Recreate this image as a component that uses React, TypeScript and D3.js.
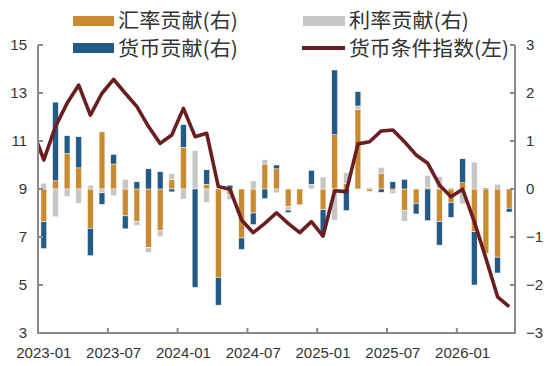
import React from "react";
import * as d3 from "d3";

const months: string[] = [];
for (let y = 2023; y <= 2026; y++) {
  for (let m = 1; m <= 12; m++) {
    if (y === 2026 && m > 5) break;
    months.push(`${y}-${String(m).padStart(2, "0")}`);
  }
}

// 汇率贡献 (right axis)
const fxContrib = [
  -0.68, 0.17, 0.74, 0.44, -0.82, 1.19, 0.52, -0.56, -0.68, -1.22,
  -0.87, 0.2, 0.87, 0, 0.1, -1.84, -0.12, -1.02, -0.5, 0.52,
  0.42, -0.37, -0.33, 0, -0.43, 1.13, 0.12, 1.66, -0.05, 0.33,
  -0.04, -0.45, -0.3, 0.03, -0.68, -0.28, 0.13, -0.89, -1.34, -1.42,
  -0.4,
];
// 利率贡献 (right axis)
const rateContrib = [
  0.12, -0.58, -0.16, -0.3, 0.08, -0.08, -0.14, 0.2, -0.08, -0.1,
  -0.12, 0.12, -0.21, 0.8, -0.28, 0, -0.1, 0, 0.17, 0.09,
  -0.08, -0.07, 0, 0.1, 0.25, -0.65, 0.22, 0.07, 0.03, 0.12,
  -0.06, -0.22, 0, 0.25, 0.26, 0.03, -0.31, 0.56, 0, 0.1,
  0,
];
// 货币贡献 (right axis)
const moneyContrib = [
  -0.56, 1.64, 0.37, 0.65, -0.57, -0.24, 0.2, -0.27, 0.15, 0.42,
  0.36, -0.06, 0.47, -2.05, 0.3, -0.58, 0.08, -0.24, -0.24, -0.2,
  0.08, -0.05, 0, 0.29, -0.47, 1.35, -0.45, 0.3, 0, -0.07,
  0.15, 0.2, -0.22, -0.66, -0.49, -0.31, 0.5, -1.11, 0.02, -0.33,
  -0.08,
];
// 货币条件指数 (left axis); first value is 2022-12 (clipped at the axis)
const indexPrev = 11.5;
const indexValues = [
  10.21, 11.6, 12.57, 13.33, 12.08, 12.99, 13.57, 12.99, 12.43, 11.6,
  10.9, 11.25, 12.36, 11.18, 11.32, 9.1, 8.99, 7.71, 7.18, 7.57,
  8.01, 7.57, 7.18, 7.64, 7.04, 8.93, 8.89, 10.88, 10.97, 11.42,
  11.46, 10.97, 10.42, 10.07, 9.17, 8.68, 8.99, 7.64, 6.11, 4.51,
  4.1,
];

const leftTicks = [3, 5, 7, 9, 11, 13, 15];
const rightTicks = [-3, -2, -1, 0, 1, 2, 3];
const xLabelMonths = ["2023-01", "2023-07", "2024-01", "2024-07", "2025-01", "2025-07", "2026-01"];

const seriesKeys = ["fx", "rate", "money"];
const seriesNames = ["汇率贡献(右)", "利率贡献(右)", "货币贡献(右)"];
const lineName = "货币条件指数(左)";
const colors: Record<string, string> = { fx: "#C98A31", rate: "#C6C6C6", money: "#255A87" };
const lineColor = "#6A1E1F";

const W = 554, H = 366;
const L = 38, R = 515, T = 45, B = 333;
const axisColor = "#8a8a8a";
const textColor = "#333333";
const numFont = "'Liberation Sans', Arial, sans-serif";
const cjkFont = "'Noto Sans CJK SC', sans-serif";

export default function App() {
  const x = d3.scaleBand<string>().domain(months).range([L, R]).paddingInner(0.5).paddingOuter(0.25);
  const idx = d3.scaleLinear().domain([0, months.length]).range([L, R]);
  const yL = d3.scaleLinear().domain([3, 15]).range([B, T]);
  const yR = d3.scaleLinear().domain([-3, 3]).range([B, T]);

  const table = months.map((m, i) => ({
    month: m,
    fx: fxContrib[i],
    rate: rateContrib[i],
    money: moneyContrib[i],
  }));
  const stack = d3.stack<any>().keys(seriesKeys).offset(d3.stackOffsetDiverging);
  const stacked = stack(table);

  const lineData = [indexPrev, ...indexValues].map((v, k) => ({ i: k - 1, v }));
  const lineGen = d3
    .line<{ i: number; v: number }>()
    .x((d) => idx(d.i + 0.5))
    .y((d) => yL(d.v));

  const bottomTickIdx = xLabelMonths.slice(1).map((m) => months.indexOf(m));

  return (
    <svg width={W} height={H} style={{ position: "absolute", left: 0, top: 0, display: "block" }}>
      <rect x={0} y={0} width={W} height={H} fill="#fff" />
      <defs>
        <clipPath id="plot">
          <rect x={L} y={T - 10} width={R - L} height={B - T + 20} />
        </clipPath>
      </defs>

      {/* bars */}
      {stacked.map((s) => (
        <g key={s.key} fill={colors[s.key]}>
          {s.map((d, i) => {
            const y0 = yR(d[0]);
            const y1 = yR(d[1]);
            const h = Math.abs(y0 - y1);
            if (h < 0.01) return null;
            return (
              <rect
                key={i}
                x={x(months[i])!}
                width={x.bandwidth()}
                y={Math.min(y0, y1)}
                height={h}
                stroke="#ffffff"
                strokeWidth={0.5}
              />
            );
          })}
        </g>
      ))}

      {/* line */}
      <path
        d={lineGen(lineData) || ""}
        fill="none"
        stroke={lineColor}
        strokeWidth={3.6}
        strokeLinejoin="round"
        clipPath="url(#plot)"
      />

      {/* axes */}
      <g stroke={axisColor} strokeWidth={2} fill="none">
        <line x1={L} x2={L} y1={T} y2={B} />
        <line x1={R} x2={R} y1={T} y2={B} />
        <line x1={L - 1} x2={R + 1} y1={B} y2={B} />
        {leftTicks.map((t) => (
          <line key={"lt" + t} x1={L} x2={L + 5} y1={yL(t)} y2={yL(t)} />
        ))}
        {rightTicks.map((t) => (
          <line key={"rt" + t} x1={R - 5} x2={R} y1={yR(t)} y2={yR(t)} />
        ))}
        {bottomTickIdx.map((k) => (
          <line key={"bt" + k} x1={idx(k)} x2={idx(k)} y1={B} y2={B - 5} />
        ))}
      </g>

      {/* tick labels */}
      <g fontFamily={numFont} fontSize={15} fill={textColor}>
        {leftTicks.map((t) => (
          <text key={"ll" + t} x={27} y={yL(t)} dy="0.35em" textAnchor="end">
            {t}
          </text>
        ))}
        {rightTicks.map((t) => (
          <text key={"rl" + t} x={526} y={yR(t)} dy="0.35em" textAnchor="start">
            {t < 0 ? "−" + Math.abs(t) : String(t)}
          </text>
        ))}
        {xLabelMonths.map((m) => (
          <text key={m} x={x(m)! + x.bandwidth() / 2} y={358} textAnchor="middle">
            {m}
          </text>
        ))}
      </g>

      {/* legend */}
      <g fontFamily={cjkFont} fontSize={20} fill={textColor}>
        <rect x={73} y={16} width={41} height={10} fill={colors.fx} />
        <text x={118} y={28} textLength={120} lengthAdjust="spacingAndGlyphs">{seriesNames[0]}</text>
        <rect x={303} y={16} width={42} height={10} fill={colors.rate} />
        <text x={349} y={28} textLength={120} lengthAdjust="spacingAndGlyphs">{seriesNames[1]}</text>
        <rect x={73} y={43} width={41} height={10} fill={colors.money} />
        <text x={118} y={56} textLength={120} lengthAdjust="spacingAndGlyphs">{seriesNames[2]}</text>
        <line x1={302} x2={345} y1={48} y2={48} stroke={lineColor} strokeWidth={4} />
        <text x={349} y={56} textLength={160} lengthAdjust="spacingAndGlyphs">{lineName}</text>
      </g>
    </svg>
  );
}
